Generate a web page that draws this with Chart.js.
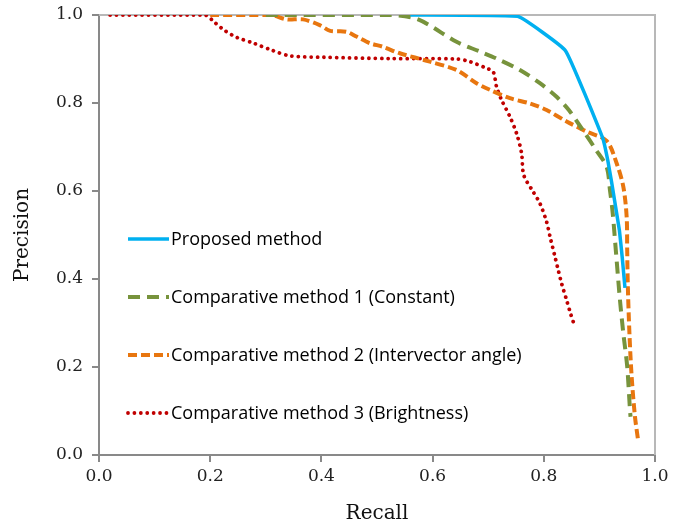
<!DOCTYPE html>
<html>
<head>
<meta charset="utf-8">
<script src="https://cdn.jsdelivr.net/npm/chart.js@4.4.1/dist/chart.umd.min.js"></script>
<style>
html,body{margin:0;padding:0;background:#fff;}
#wrap{width:685px;height:526px;position:relative;}
</style>
</head>
<body>
<div id="wrap"><canvas id="c" width="685" height="526"></canvas></div>
<script>
const seriesLabels = [
  "Proposed method",
  "Comparative method 1 (Constant)",
  "Comparative method 2 (Intervector angle)",
  "Comparative method 3 (Brightness)"
];
const xTicks = [0.0, 0.2, 0.4, 0.6, 0.8, 1.0];
const yTicks = [0.0, 0.2, 0.4, 0.6, 0.8, 1.0];

const proposedRecall    = [0.56, 0.753, 0.839, 0.906, 0.915, 0.922, 0.929, 0.936, 0.941, 0.946];
const proposedPrecision = [1.0, 0.997, 0.919, 0.72, 0.67, 0.62, 0.565, 0.51, 0.45, 0.38];

const m1Recall    = [0.30, 0.523, 0.574, 0.643, 0.685, 0.715, 0.757, 0.793, 0.823, 0.845, 0.871, 0.893, 0.913, 0.919, 0.924, 0.930, 0.937, 0.943, 0.950, 0.955, 0.956];
const m1Precision = [1.0, 1.0, 0.99, 0.939, 0.917, 0.901, 0.875, 0.845, 0.814, 0.784, 0.737, 0.695, 0.655, 0.602, 0.549, 0.458, 0.352, 0.277, 0.201, 0.102, 0.087];

const m2Recall    = [0.20, 0.308, 0.338, 0.367, 0.397, 0.416, 0.445, 0.463, 0.487, 0.510, 0.541, 0.595, 0.643, 0.679, 0.703, 0.739, 0.775, 0.805, 0.841, 0.877, 0.913, 0.931, 0.943, 0.949, 0.950, 0.951, 0.954, 0.958, 0.964, 0.970];
const m2Precision = [1.0, 1.0, 0.99, 0.99, 0.977, 0.964, 0.962, 0.951, 0.936, 0.928, 0.913, 0.894, 0.875, 0.845, 0.830, 0.811, 0.799, 0.784, 0.758, 0.735, 0.714, 0.663, 0.61, 0.542, 0.466, 0.39, 0.277, 0.178, 0.087, 0.03];

const m3Recall    = [0.02, 0.19, 0.209, 0.227, 0.248, 0.278, 0.311, 0.344, 0.403, 0.523, 0.643, 0.667, 0.697, 0.709, 0.715, 0.724, 0.739, 0.751, 0.760, 0.764, 0.781, 0.793, 0.805, 0.812, 0.820, 0.826, 0.832, 0.841, 0.848, 0.855];
const m3Precision = [1.0, 1.0, 0.982, 0.964, 0.949, 0.936, 0.92, 0.907, 0.904, 0.901, 0.90, 0.894, 0.879, 0.871, 0.837, 0.807, 0.769, 0.731, 0.686, 0.636, 0.598, 0.572, 0.53, 0.492, 0.451, 0.42, 0.39, 0.352, 0.322, 0.295];

function pts(xs, ys){ return xs.map((x,i)=>({x:x, y:ys[i]})); }

const borderBox = {
  id:'borderBox',
  beforeDatasetsDraw(chart){
    const a = chart.chartArea, ctx = chart.ctx;
    ctx.save();
    ctx.strokeStyle = '#b8b8b8';
    ctx.lineWidth = 2;
    ctx.beginPath();
    ctx.moveTo(a.left, a.top);
    ctx.lineTo(a.right, a.top);
    ctx.lineTo(a.right, a.bottom);
    ctx.stroke();
    ctx.restore();
  }
};

const innerLegend = {
  id:'innerLegend',
  afterDraw(chart){
    const a = chart.chartArea, ctx = chart.ctx;
    ctx.save();
    chart.data.datasets.forEach((ds,i)=>{
      const y = a.top + 224 + i*58;
      const x0 = a.left + 29, x1 = a.left + 70;
      ctx.strokeStyle = ds.borderColor;
      ctx.lineWidth = ds.borderWidth;
      ctx.lineCap = ds.borderCapStyle || 'butt';
      ctx.setLineDash(ds.borderDash || []);
      ctx.beginPath(); ctx.moveTo(x0,y); ctx.lineTo(x1,y); ctx.stroke();
      ctx.setLineDash([]);
      ctx.fillStyle = '#000';
      ctx.font = '18px "Open Sans", "Noto Sans", sans-serif';
      ctx.textBaseline = 'middle';
      ctx.textAlign = 'left';
      ctx.fillText(ds.label, x1 + 2, y + 1);
    });
    ctx.restore();
  }
};

const serif = '"DejaVu Serif", "Liberation Serif", serif';

new Chart(document.getElementById('c'), {
  type:'line',
  data:{
    datasets:[
      {label:seriesLabels[0], data:pts(proposedRecall, proposedPrecision), borderColor:'#00b0f0', borderWidth:3.5, pointRadius:0, tension:0.1, fill:false},
      {label:seriesLabels[1], data:pts(m1Recall, m1Precision), borderColor:'#77933c', borderWidth:4, borderDash:[12,7], pointRadius:0, tension:0.3, fill:false},
      {label:seriesLabels[2], data:pts(m2Recall, m2Precision), borderColor:'#e8760f', borderWidth:4, borderDash:[9,4], pointRadius:0, tension:0.3, fill:false},
      {label:seriesLabels[3], data:pts(m3Recall, m3Precision), borderColor:'#c00000', borderWidth:3.8, borderDash:[0.01,6.4], borderCapStyle:'round', pointRadius:0, tension:0.3, fill:false}
    ]
  },
  options:{
    responsive:false,
    animation:false,
    devicePixelRatio:1,
    layout:{padding:{top:15, right:30, left:0, bottom:0}},
    plugins:{legend:{display:false}, tooltip:{enabled:false}},
    scales:{
      x:{
        type:'linear', min:0, max:1,
        afterBuildTicks(s){ s.ticks = xTicks.map(v=>({value:v})); },
        afterFit(s){ s.height = 71; s.paddingLeft = 0; s.paddingRight = 0; },
        grid:{display:true, drawOnChartArea:false, tickLength:7, color:'#898989', lineWidth:2},
        border:{display:true, color:'#898989', width:2},
        ticks:{color:'#222', font:{family:serif, size:17}, padding:4, callback:v=>v.toFixed(1), maxRotation:0},
        title:{display:true, text:'Recall', color:'#111', font:{family:serif, size:20}, padding:{top:8,bottom:0}}
      },
      y:{
        type:'linear', min:0, max:1,
        afterBuildTicks(s){ s.ticks = yTicks.map(v=>({value:v})); },
        afterFit(s){ s.width = 99; s.paddingTop = 0; s.paddingBottom = 0; },
        grid:{display:true, drawOnChartArea:false, tickLength:7, color:'#898989', lineWidth:2},
        border:{display:true, color:'#898989', width:2},
        ticks:{color:'#222', font:{family:serif, size:17}, padding:9, callback:v=>v.toFixed(1)},
        title:{display:true, text:'Precision', color:'#111', font:{family:serif, size:20}, padding:{top:11,bottom:0}}
      }
    }
  },
  plugins:[borderBox, innerLegend]
});
</script>
</body>
</html>
